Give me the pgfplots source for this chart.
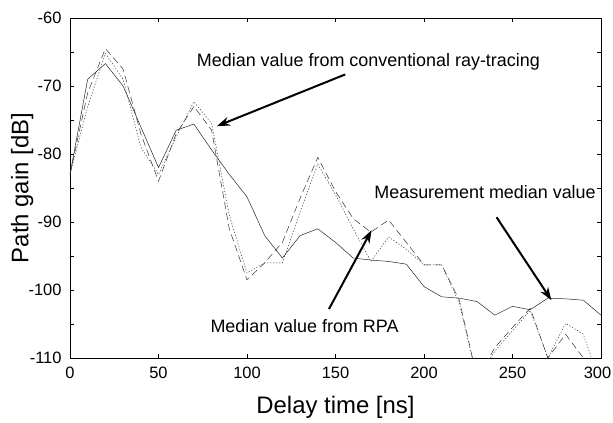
\documentclass[border=0pt]{standalone}
\usepackage{pgfplots}
\pgfplotsset{compat=1.18}
\usepackage{fontspec}
\setmainfont{Liberation Sans}
\usetikzlibrary{arrows.meta}
\begin{document}
\begin{tikzpicture}
\begin{axis}[
  scale only axis, width=531bp, height=340bp,
  xmin=0, xmax=300, ymin=-110, ymax=-60,
  xtick={0,50,...,300}, ytick={-110,-100,...,-60},
  minor ytick={-105,-95,...,-65},
  tick align=inside, major tick length=4bp, minor tick length=4bp,
  tick style={black, line width=0.4pt},
  axis line style={line width=0.6pt},
  /pgf/number format/assume math mode=true,
  ticklabel style={font=\fontsize{16.5}{19}\selectfont},
  xticklabel={\ifnum\ticknum=6\relax\hspace*{-7bp}\fi\pgfmathprintnumber{\tick}},
  xticklabel style={yshift=-6bp},
  yticklabel style={xshift=-5bp},
  xlabel={Delay time [ns]}, ylabel={Path gain [dB]},
  label style={font=\fontsize{24}{28}\selectfont},
  xlabel style={at={(axis description cs:0.5,0)}, anchor=center, yshift=-49bp},
  ylabel style={at={(axis description cs:-0.09,0.5)}, anchor=center},
  clip=true,
]
% Measurement (solid)
\addplot[black!85, line width=0.5pt] coordinates {
(0,-83) (10,-69) (20,-66.7) (30,-70) (40,-76) (50,-82) (60,-76.5) (70,-75.6)
(80,-79.4) (90,-83) (100,-86.3) (110,-92) (120,-95.3) (130,-92) (140,-91)
(150,-93) (160,-95.3) (170,-95.6) (180,-95.8) (190,-96.2) (200,-99.5)
(210,-101) (220,-101.2) (230,-101.7) (240,-103.7) (250,-102.4) (260,-102.9)
(270,-101.2) (280,-101.3) (290,-101.5) (300,-103.7)};
% Ray-tracing (dashed)
\addplot[black!80, line width=0.5pt, dash pattern=on 7bp off 4bp] coordinates {
(0,-83) (10,-71) (20,-64.5) (30,-67.5) (40,-77) (50,-84) (60,-77) (70,-73)
(80,-76.5) (90,-91) (100,-98.5) (110,-96) (120,-93) (130,-86.5) (140,-80.5)
(150,-85.5) (160,-89.5) (170,-91.5) (180,-89.7) (190,-93) (200,-96.3)
(210,-96.3) (220,-101.5) (230,-113) (240,-108.5) (250,-105.5) (260,-102.7)
(270,-110) (280,-106.5) (290,-110) (300,-114)};
% RPA (dotted)
\addplot[black!80, line width=0.5pt, dash pattern=on 1.2bp off 1.8bp] coordinates {
(0,-83) (10,-73) (20,-65.2) (30,-69) (40,-79) (50,-83) (60,-77.5) (70,-72.3)
(80,-75.5) (90,-89) (100,-97.5) (110,-96) (120,-96) (130,-88.5) (140,-81.5)
(150,-86) (160,-91) (170,-95.8) (180,-92.2) (190,-94) (200,-96.3)
(210,-96.3) (220,-102) (230,-113) (240,-109) (250,-106) (260,-103)
(270,-110) (280,-104.9) (290,-106.5) (300,-114)};
% annotations
\node[font=\fontsize{18}{21}\selectfont, anchor=base] at (axis cs:168.6,-67.06) {Median value from conventional ray-tracing};
\draw[-{Stealth[length=13bp,width=9bp]}, line width=2bp] (axis cs:155.5,-68.3) -- (axis cs:83,-75.9);
\node[font=\fontsize{18}{21}\selectfont, anchor=base west] at (axis cs:170,-86.6) {Measurement median value};
\draw[-{Stealth[length=13bp,width=9bp]}, line width=2bp] (axis cs:241,-89.3) -- (axis cs:272,-101.5);
\node[font=\fontsize{18}{21}\selectfont, anchor=base] at (axis cs:132.5,-106.3) {Median value from RPA};
\draw[-{Stealth[length=13bp,width=9bp]}, line width=2bp] (axis cs:146.3,-102.8) -- (axis cs:170.4,-91.2);
\end{axis}
\pgfresetboundingbox
\path (current axis.south west) ++(-70bp,-65bp) rectangle ++(613bp,423bp);
\end{tikzpicture}
\end{document}
